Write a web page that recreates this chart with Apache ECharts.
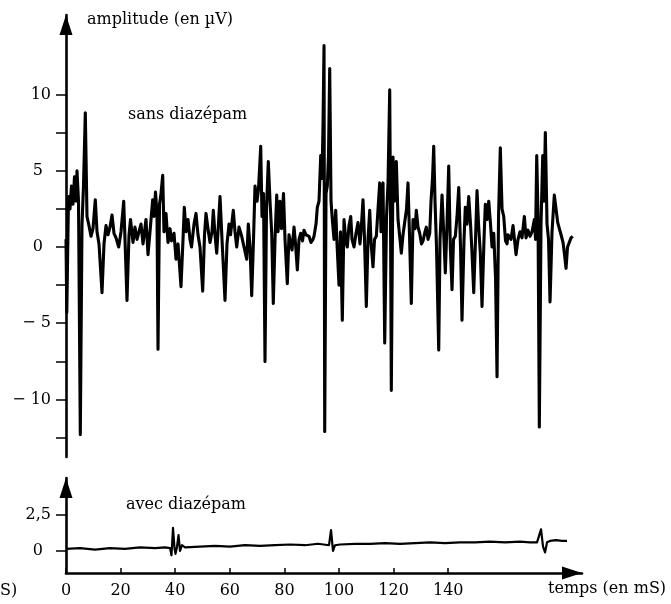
<!DOCTYPE html>
<html><head><meta charset="utf-8">
<script src="https://cdn.jsdelivr.net/npm/echarts@6/dist/echarts.min.js"></script>
<style>html,body{margin:0;padding:0;background:#fff}#c{width:671px;height:604px}</style>
</head><body><div id="c"></div>
<script>
// "sans diazépam" trace: time (ms) and amplitude (µV)
const topTime = [0,0.29,0.92,1.47,2.01,2.56,3.11,3.66,4.03,4.58,5.24,5.86,6.41,7.07,7.69,8.42,9.16,9.89,10.73,11.36,12.09,13.19,13.92,14.65,15.38,16.12,16.85,17.58,18.32,19.30,20.15,21.14,21.61,22.34,23.08,23.63,24.54,25.27,26.01,
26.74,27.47,28.21,29.30,30.04,30.77,31.76,32.23,32.78,33.33,33.70,34.25,34.80,35.42,35.90,36.63,37.36,38.10,38.64,39.56,40.29,41.03,42.12,42.86,43.33,43.96,44.69,45.42,45.97,46.89,47.62,48.35,49.08,50.07,50.73,51.28,52.01,52.75,53.48,
53.96,54.58,55.20,55.68,56.41,57.14,58.24,58.97,59.71,60.26,61.28,61.90,62.53,63.37,64.36,65.20,66.19,66.78,67.40,68.02,68.68,69.23,69.96,70.51,71.32,71.79,72.34,72.89,73.44,74.10,74.73,75.35,75.93,76.56,77.18,77.66,78.39,78.94,79.67,
80.22,81.06,81.68,82.31,82.78,83.52,84.07,84.73,85.35,85.97,86.63,87.18,87.91,89.01,89.74,90.48,90.84,91.58,92.05,92.67,93.30,93.77,94.14,94.51,94.76,95.24,95.71,96.15,96.59,97.07,97.55,98.17,98.79,99.27,100.00,100.55,101.21,101.83,102.56,103.04,103.66,104.29,104.76,105.49,106.23,106.70,
106.96,107.69,108.24,108.79,109.34,110.00,110.62,111.25,111.72,112.45,113.00,113.66,114.29,114.91,115.38,115.75,116.12,116.74,117.40,117.95,118.57,118.86,119.16,119.78,120.33,120.99,121.61,122.34,122.82,123.44,124.07,124.73,125.27,125.82,126.48,127.11,127.84,128.32,128.94,129.56,130.22,130.77,131.50,131.98,132.60,133.22,133.70,134.25,
134.69,135.16,135.71,136.52,137.00,137.73,138.35,138.94,139.56,140.18,140.77,141.39,141.94,142.60,143.22,143.85,144.51,145.05,145.79,146.26,146.89,147.51,148.17,148.72,149.34,150.00,150.55,151.10,151.76,152.38,153.11,153.59,154.21,154.84,155.49,156.04,156.67,157.33,157.88,158.43,159.08,159.71,160.33,160.99,161.54,
161.90,163.00,163.74,164.84,165.57,166.30,167.03,167.88,168.50,169.23,169.96,170.70,171.54,171.98,172.42,172.89,173.37,173.99,174.62,175.09,175.57,176.19,176.74,177.29,178.02,178.86,179.49,180.11,180.77,181.32,182.05,182.60,183.15,183.70,184.36,184.98,185.60];
const topAmp = [0.5,-4.3,3.3,2.5,4.0,2.8,4.6,3.0,5.0,3.0,-12.3,1.5,4.0,8.8,2.0,1.4,0.7,1.2,3.1,1.0,0.2,-3.0,0.2,1.4,0.8,1.3,2.1,0.9,0.6,0.0,1.0,3.0,0.5,-3.5,0.8,1.8,0.3,1.3,0.5,
0.6,1.5,0.2,1.8,-0.5,1.0,3.1,2.0,3.6,2.2,-6.7,2.8,3.5,4.7,1.0,2.2,0.3,1.2,0.4,0.9,-0.8,0.2,-2.6,0.5,2.6,1.0,1.8,0.5,0.0,1.5,2.2,0.8,0.0,-2.9,0.8,2.2,1.2,0.3,1.0,
2.4,0.8,-0.4,1.0,3.3,0.5,-3.5,0.2,1.5,0.8,2.4,1.0,0.0,1.3,0.7,0.0,-0.8,1.5,0.0,-3.2,0.5,4.0,3.0,3.8,6.6,2.0,3.5,-7.5,2.5,5.6,3.0,0.9,-3.7,0.5,3.4,1.0,3.0,1.2,3.5,
0.5,-2.4,0.8,0.7,-0.2,1.3,0.2,-1.5,0.5,0.9,0.4,1.1,0.8,0.7,0.3,0.5,0.7,1.5,2.6,3.0,6.0,4.5,8.0,13.2,-12.1,3.5,4.0,6.0,11.7,3.0,1.8,0.5,2.4,0.2,-2.5,1.0,-4.8,1.8,0.3,0.0,1.4,2.0,0.5,0.0,0.9,0.9,
1.6,0.2,1.5,3.1,0.5,-3.9,0.5,2.4,0.3,-1.3,0.5,0.7,2.5,4.2,1.0,3.2,4.2,-6.3,2.0,4.2,10.3,2.0,-9.4,5.9,3.0,5.6,1.8,0.5,-0.4,0.8,0.9,2.5,4.2,0.8,-3.7,1.8,1.2,2.4,1.3,0.9,0.2,0.4,1.0,1.3,0.5,0.9,3.0,4.5,
6.6,3.0,0.0,-6.75,0.5,3.4,0.9,-1.7,1.5,5.3,0.0,-2.8,0.5,0.7,2.0,3.9,0.0,-4.8,0.5,2.6,1.5,3.3,1.5,-0.4,-3.0,0.5,3.7,1.5,-0.4,-3.9,0.5,2.8,1.8,3.0,1.5,0.0,0.9,-2.0,-8.5,2.0,6.5,2.5,2.0,0.4,0.2,
0.8,0.5,1.4,-0.5,0.5,1.0,0.6,2.0,0.6,1.1,0.7,1.0,1.8,0.5,6.0,2.0,-11.8,1.5,6.0,3.0,7.5,1.5,0.5,-3.6,1.0,3.4,2.5,1.6,1.5,0.8,0.3,-0.5,-1.4,0.0,0.3,0.6,0.7];

// "avec diazépam" trace
const botTime = [0,5.13,10.62,16.12,21.61,27.11,32.60,36.26,38.10,38.64,39.19,39.74,40.11,40.66,41.21,41.76,42.49,43.59,49.08,54.58,60.07,65.57,71.06,76.56,82.05,87.55,92.31,96.34,97.07,97.80,98.53,100.37,105.86,111.36,116.85,122.34,127.84,133.33,138.83,144.32,149.82,155.31,160.81,166.30,169.96,172.53,173.26,173.99,174.73,175.46,176.19,177.29,179.49,181.69,183.52];
const botAmp = [0.15,0.2,0.1,0.2,0.15,0.25,0.2,0.25,0.2,-0.3,1.6,0.2,-0.2,0.3,1.1,0.0,0.4,0.25,0.3,0.35,0.3,0.4,0.35,0.4,0.45,0.4,0.5,0.4,1.45,0.0,0.4,0.45,0.5,0.5,0.55,0.5,0.55,0.6,0.55,0.6,0.6,0.65,0.6,0.65,0.6,0.6,0.6,1.5,0.3,-0.1,0.6,0.7,0.75,0.7,0.7];

const topTickVals = [-12.5,-10,-7.5,-5,-2.5,0,2.5,5,7.5,10];
const topLabelVals = [-10,-5,0,5,10];
const botTickVals = [0,2.5];
const xTickVals = [0,20,40,60,80,100,120,140];

function zip(a,b){const n=Math.min(a.length,b.length);const r=[];for(let i=0;i<n;i++)r.push([a[i],b[i]]);return r;}

const FONT = 'DejaVu Serif';
const TXT = {fontFamily: FONT, fontSize: 16, color: '#000'};
const axisLineStyle = {color:'#000', width:2.6};
const arrowLine = {show:true, onZero:false, lineStyle:axisLineStyle, symbol:['none','triangle'], symbolSize:[13,20], symbolOffset:[0,-10]};

const chart = echarts.init(document.getElementById('c'), null, {renderer:'canvas'});
chart.setOption({
  animation:false,
  backgroundColor:'#fff',
  grid:[
    {left:66, right:89, top:15, height:442},
    {left:66, right:89, top:478, height:95}
  ],
  xAxis:[
    {gridIndex:0, type:'value', min:0, max:189, show:false},
    {gridIndex:1, type:'value', min:0, max:189,
      axisLine:arrowLine,
      axisTick:{show:true, inside:true, length:5, customValues:xTickVals, lineStyle:{color:'#000', width:1.5}},
      axisLabel:{show:true, customValues:xTickVals, margin:10, ...TXT},
      splitLine:{show:false}}
  ],
  yAxis:[
    {gridIndex:0, type:'value', min:-13.77, max:15.21,
      axisLine:arrowLine,
      axisTick:{show:true, length:10, customValues:topTickVals, lineStyle:{color:'#000', width:1.5}},
      axisLabel:{show:true, customValues:topLabelVals, margin:15, ...TXT,
        formatter:function(v){ if(v<0) return '\u2212 '+Math.abs(v); if(v<10) return v+'\u2002'; return ''+v; }},
      splitLine:{show:false}},
    {gridIndex:1, type:'value', min:-1.53, max:5.07,
      axisLine:arrowLine,
      axisTick:{show:true, length:10, customValues:botTickVals, lineStyle:{color:'#000', width:1.5}},
      axisLabel:{show:true, customValues:botTickVals, margin:15, ...TXT,
        formatter:function(v){ return v===2.5 ? '2,5' : '0\u2002'; }},
      splitLine:{show:false}}
  ],
  series:[
    {type:'line', xAxisIndex:0, yAxisIndex:0, data:zip(topTime,topAmp), showSymbol:false, silent:true,
      lineStyle:{color:'#000', width:3.1, join:'round'}},
    {type:'line', xAxisIndex:1, yAxisIndex:1, data:zip(botTime,botAmp), showSymbol:false, silent:true,
      lineStyle:{color:'#000', width:2.2, join:'round'}}
  ],
  graphic:[
    {type:'text', left:87, top:12, style:{text:'amplitude (en \u00b5V)', font:'16px "DejaVu Serif"', fill:'#000'}},
    {type:'text', left:128, top:107, style:{text:'sans diaz\u00e9pam', font:'16px "DejaVu Serif"', fill:'#000'}},
    {type:'text', left:126, top:497, style:{text:'avec diaz\u00e9pam', font:'16px "DejaVu Serif"', fill:'#000'}},
    {type:'text', left:548, top:581, style:{text:'temps (en mS)', font:'16px "DejaVu Serif"', fill:'#000'}},
    {type:'text', left:0, top:583, style:{text:'S)', font:'16px "DejaVu Serif"', fill:'#000'}}
  ]
});
</script></body></html>
